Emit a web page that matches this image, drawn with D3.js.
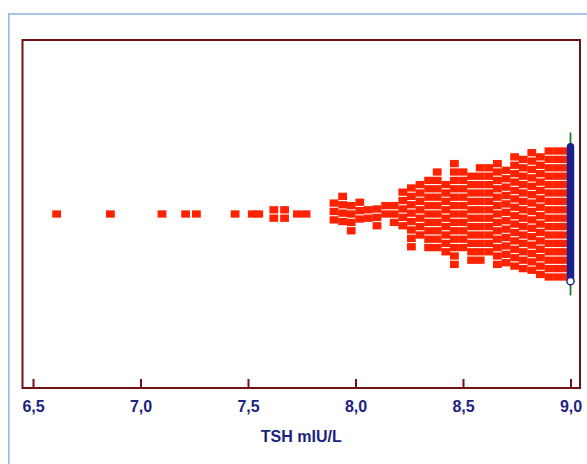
<!DOCTYPE html>
<html>
<head>
<meta charset="utf-8">
<script src="https://cdn.jsdelivr.net/npm/d3@7"></script>
<style>
  body { margin: 0; background: #fff; }
  svg { display: block; }
</style>
</head>
<body>
<svg id="chart" width="587" height="464"></svg>
<script>
// TSH values (mIU/L), how many observations sit at each value,
// and the vertical shift (in rows) of each stack as seen in the picture
const tshValues = [6.61, 6.86, 7.10, 7.21, 7.26, 7.44, 7.52, 7.55, 7.62, 7.67, 7.73, 7.77,
  7.90, 7.94, 7.98, 8.02, 8.06, 8.10, 8.14, 8.18, 8.22, 8.26, 8.30, 8.34, 8.38, 8.42,
  8.46, 8.50, 8.54, 8.58, 8.62, 8.66, 8.70, 8.74, 8.78, 8.82, 8.86, 8.90, 8.94, 8.98];
const tshCounts = [1, 1, 1, 1, 1, 1, 1, 1, 2, 2, 1, 1,
  3, 4, 4, 3, 2, 3, 2, 3, 5, 8, 7, 9, 10, 9,
  13, 10, 11, 12, 11, 13, 12, 14, 14, 15, 15, 16, 16, 16];
const tshShift = [0, 0, 0, 0, 0, 0, 0, 0, 0, 0, 0, 0,
  0.3, 0.6, -0.5, 0.4, 0, -0.4, 0.5, 0, 0.6, -0.4, 0.5, 0, 0.5, -0.5,
  0, 0.5, -0.5, 0, 0.5, 0, -0.3, 0.3, 0, 0.3, -0.2, 0, 0, 0];
const tickValues = [6.5, 7.0, 7.5, 8.0, 8.5, 9.0];
const cutoff = 9.0;
const barRows = 8;      // half height of the blue bar, in rows
const greenRows = 9.7;  // half height of the green line, in rows

const svg = d3.select("#chart");
const plot = { left: 22.5, right: 580, top: 40, bottom: 388 };
const rowStep = 8.4;
const sqW = 8.8, sqH = 7.3;

const x = d3.scaleLinear().domain([6.5, 9.0]).range([33, 570.5]);
const halfRows = (plot.bottom - plot.top) / 2 / rowStep;
const y = d3.scaleLinear().domain([-halfRows, halfRows]).range([plot.bottom, plot.top]);

// outer light blue frame
svg.append("path")
  .attr("d", "M 8.8 464 L 8.8 14 L 587 14")
  .attr("fill", "none")
  .attr("stroke", "#8fb4de")
  .attr("stroke-width", 1.5);

// points: every observation gets its own square, stacked around the middle
const points = [];
tshValues.forEach((v, i) => {
  const n = tshCounts[i];
  for (let k = 0; k < n; k++) {
    points.push({ value: v, row: k - (n - 1) / 2 + tshShift[i] });
  }
});

svg.append("g")
  .selectAll("rect")
  .data(points)
  .join("rect")
  .attr("x", d => x(d.value) - sqW / 2)
  .attr("y", d => y(d.row) - sqH / 2)
  .attr("width", sqW)
  .attr("height", sqH)
  .attr("fill", "#ff2200");

// green line and blue bar at the cutoff
svg.append("line")
  .attr("x1", x(cutoff)).attr("x2", x(cutoff))
  .attr("y1", y(greenRows)).attr("y2", y(-greenRows))
  .attr("stroke", "#267a26")
  .attr("stroke-width", 1.8);

svg.append("line")
  .attr("x1", x(cutoff)).attr("x2", x(cutoff))
  .attr("y1", y(barRows)).attr("y2", y(-barRows))
  .attr("stroke", "#1c1f8a")
  .attr("stroke-width", 7.5)
  .attr("stroke-linecap", "round");

svg.append("circle")
  .attr("cx", x(cutoff))
  .attr("cy", y(-barRows))
  .attr("r", 3.6)
  .attr("fill", "#fff")
  .attr("stroke", "#1c1f8a")
  .attr("stroke-width", 1.4);

// plot frame
svg.append("rect")
  .attr("x", plot.left)
  .attr("y", plot.top)
  .attr("width", plot.right - plot.left)
  .attr("height", plot.bottom - plot.top)
  .attr("fill", "none")
  .attr("stroke", "#6e1414")
  .attr("stroke-width", 2);

// bottom axis, ticks pointing inward
const axis = svg.append("g")
  .attr("transform", `translate(0,${plot.bottom})`)
  .call(d3.axisBottom(x)
    .tickValues(tickValues)
    .tickSizeInner(-9)
    .tickSizeOuter(0)
    .tickFormat(d => d3.format(".1f")(d).replace(".", ",")));

axis.select(".domain").remove();
axis.selectAll(".tick line")
  .attr("stroke", "#6e1414")
  .attr("stroke-width", 2);
axis.selectAll(".tick text")
  .attr("fill", "#1c237f")
  .attr("font-family", "Liberation Sans, Arial, sans-serif")
  .attr("font-size", 16)
  .attr("font-weight", "bold")
  .attr("dy", null)
  .attr("y", 24);

svg.append("text")
  .attr("x", (plot.left + plot.right) / 2)
  .attr("y", 441.5)
  .attr("text-anchor", "middle")
  .attr("fill", "#1c237f")
  .attr("font-family", "Liberation Sans, Arial, sans-serif")
  .attr("font-size", 16)
  .attr("font-weight", "bold")
  .text("TSH mIU/L");
</script>
</body>
</html>
